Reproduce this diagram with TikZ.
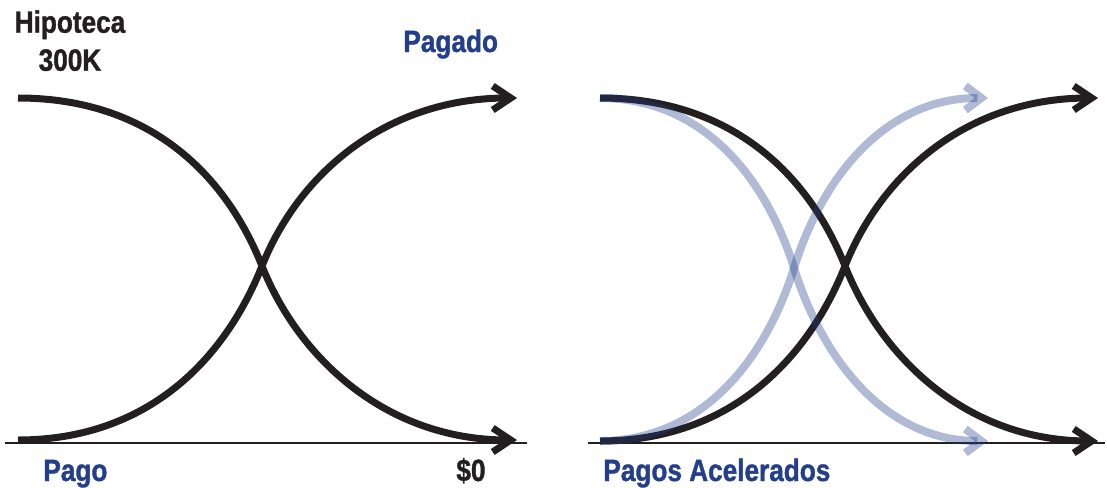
\documentclass[tikz,border=0pt]{standalone}
\usepackage{fontspec}
\setmainfont{Liberation Sans}[FakeStretch=0.85, BoldFeatures={FakeBold=1.2}]
\usepackage{xcolor}
\usepackage{tikz}
\usetikzlibrary{positioning, arrows.meta}
\definecolor{loanblue}{HTML}{233E8B}
\definecolor{fadeblue}{HTML}{1D3A87}
\definecolor{inkblack}{HTML}{231F20}

\begin{document}
\begin{tikzpicture}[x=0.5pt, y=-0.5pt,
    payline/.style={draw=inkblack, line width=3.5pt, -{Straight Barb[length=9pt,width=12pt]}},
    fastline/.style={draw=fadeblue, draw opacity=0.35, line width=4pt, -{Straight Barb[length=8pt,width=12pt]}},
    axisline/.style={draw=inkblack, line width=1.2pt},
    lbl/.style={inner sep=0pt, font=\fontsize{15.4}{19}\selectfont\bfseries}]
  \useasboundingbox (0,0) rectangle (1107,487);

  % left panel: standard mortgage
  \coordinate (topL) at (18,98);
  \coordinate (botL) at (18,440);
  \coordinate (crossL) at (262,266);
  \coordinate (endtopL) at (517,98);
  \coordinate (endbotL) at (517,440);
  \draw[axisline] (5,443) -- (527,443);
  \draw[payline] (topL) .. controls +(130,0) and +(-37,-93) .. (crossL)
                         .. controls +(37,93) and +(-130,0) .. (endbotL);
  \draw[payline] (botL) .. controls +(130,0) and +(-37,93) .. (crossL)
                         .. controls +(37,-93) and +(-130,0) .. (endtopL);

  % right panel: accelerated payments
  \coordinate (topR) at (600,98);
  \coordinate (botR) at (600,441);
  \coordinate (crossR) at (845,266);
  \coordinate (endtopR) at (1098,98);
  \coordinate (endbotR) at (1098,441);
  \coordinate (crossF) at (794,268);
  \coordinate (endtopF) at (988,98);
  \coordinate (endbotF) at (988,441);
  \draw[axisline] (588,443) -- (1105,443);
  \draw[payline] (topR) .. controls +(130,0) and +(-37,-93) .. (crossR)
                         .. controls +(37,93) and +(-130,0) .. (endbotR);
  \draw[payline] (botR) .. controls +(130,0) and +(-37,93) .. (crossR)
                         .. controls +(37,-93) and +(-130,0) .. (endtopR);
  \draw[fastline] (topR) .. controls +(101,0) and +(-29,-93) .. (crossF)
                          .. controls +(29,93) and +(-101,0) .. (endbotF);
  \draw[fastline] (botR) .. controls +(101,0) and +(-29,93) .. (crossF)
                          .. controls +(29,-93) and +(-101,0) .. (endtopF);

  % labels
  \node[lbl, anchor=north, align=center, text=inkblack] (loan) at (70,10) {Hipoteca\\300K};
  \node[lbl, anchor=base west, text=loanblue] (paid) at (403,52) {Pagado};
  \node[lbl, anchor=base west, text=loanblue] (payment) at (43,481) {Pago};
  \node[lbl, anchor=base west, text=inkblack] (zero) at (456,481) {\$0};
  \node[lbl, anchor=base west, text=loanblue] (faster) at (603,481) {Pagos Acelerados};
\end{tikzpicture}
\end{document}
